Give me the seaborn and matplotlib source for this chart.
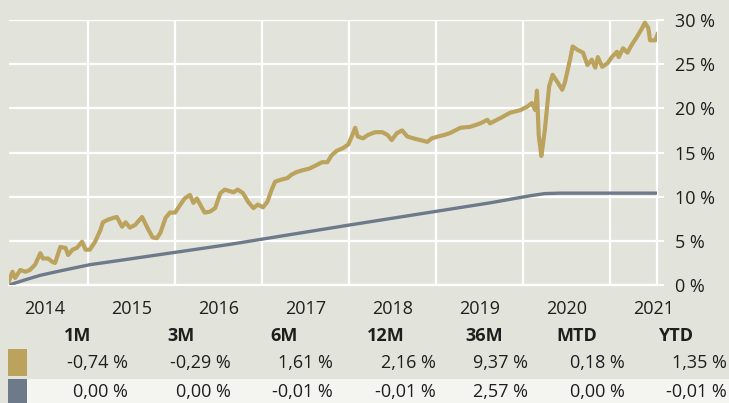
import pandas as pd
import matplotlib.pyplot as plt
import seaborn as sns
from matplotlib.patches import Rectangle
from matplotlib.ticker import FixedLocator

# cumulative performance in % (x in decimal years)
fund_t = [2014.08, 2014.13, 2014.16, 2014.22, 2014.28, 2014.33, 2014.39, 2014.45, 2014.48, 2014.54,
          2014.59, 2014.62, 2014.68, 2014.74, 2014.77, 2014.82, 2014.87, 2014.93, 2014.97, 2015.02,
          2015.08, 2015.14, 2015.17, 2015.23, 2015.29, 2015.33, 2015.39, 2015.43, 2015.48, 2015.54,
          2015.62, 2015.68, 2015.74, 2015.79, 2015.83, 2015.89, 2015.94, 2016.00, 2016.06, 2016.11,
          2016.17, 2016.21, 2016.25, 2016.31, 2016.34, 2016.40, 2016.46, 2016.52, 2016.57, 2016.67,
          2016.72, 2016.78, 2016.84, 2016.90, 2016.95, 2017.01, 2017.06, 2017.11, 2017.15, 2017.21,
          2017.29, 2017.34, 2017.40, 2017.47, 2017.55, 2017.63, 2017.69, 2017.75, 2017.80, 2017.86,
          2017.93, 2017.99, 2018.03, 2018.07, 2018.10, 2018.16, 2018.22, 2018.30, 2018.38, 2018.44,
          2018.49, 2018.55, 2018.61, 2018.67, 2018.74, 2018.82, 2018.90, 2018.95, 2019.02, 2019.10,
          2019.16, 2019.28, 2019.39, 2019.51, 2019.59, 2019.62, 2019.74, 2019.85, 2019.97, 2020.05,
          2020.10, 2020.14, 2020.16, 2020.18, 2020.21, 2020.23, 2020.25, 2020.28, 2020.30, 2020.34,
          2020.40, 2020.45, 2020.48, 2020.54, 2020.57, 2020.63, 2020.69, 2020.74, 2020.79, 2020.83,
          2020.86, 2020.91, 2020.97, 2021.02, 2021.08, 2021.10, 2021.15, 2021.20, 2021.25, 2021.31,
          2021.37, 2021.40, 2021.44, 2021.46, 2021.52, 2021.55]
fund_pct = [0.2, 1.5, 0.8, 1.7, 1.5, 1.7, 2.3, 3.6, 3.0, 3.0,
            2.6, 2.5, 4.3, 4.2, 3.4, 4.0, 4.2, 4.9, 4.0, 4.0,
            4.9, 6.2, 7.1, 7.4, 7.6, 7.7, 6.6, 7.1, 6.5, 6.8,
            7.7, 6.5, 5.4, 5.3, 5.9, 7.6, 8.2, 8.2, 9.1, 9.8,
            10.2, 9.3, 9.8, 8.7, 8.2, 8.3, 8.7, 10.4, 10.8, 10.5,
            10.8, 10.4, 9.4, 8.7, 9.1, 8.8, 9.4, 10.8, 11.7, 11.9,
            12.1, 12.5, 12.8, 13.0, 13.2, 13.6, 13.9, 13.9, 14.7, 15.2,
            15.5, 15.9, 16.8, 17.8, 16.8, 16.6, 17.0, 17.3, 17.3, 17.0,
            16.4, 17.2, 17.5, 16.8, 16.6, 16.4, 16.2, 16.6, 16.8, 17.0,
            17.2, 17.8, 17.9, 18.3, 18.7, 18.3, 18.9, 19.5, 19.8, 20.2,
            20.6, 19.8, 22.0, 17.0, 14.6, 16.0, 17.5, 20.5, 22.5, 23.8,
            22.9, 22.1, 22.9, 25.5, 27.0, 26.6, 26.3, 24.9, 25.5, 24.6,
            25.8, 24.7, 25.1, 25.8, 26.4, 25.8, 26.8, 26.3, 27.2, 28.1,
            29.1, 29.7, 29.1, 27.7, 27.7, 28.5]

bench_t = [2014.09, 2014.28, 2014.45, 2014.68, 2015.02, 2015.34, 2016.63, 2018.01, 2019.62,
           2020.08, 2020.25, 2020.43, 2021.54]
bench_pct = [0.0, 0.6, 1.1, 1.6, 2.3, 2.75, 4.6, 6.8, 9.3, 10.1, 10.35, 10.4, 10.4]

years = [2014, 2015, 2016, 2017, 2018, 2019, 2020, 2021]
y_ticks = [0, 5, 10, 15, 20, 25, 30]

periods = ["1M", "3M", "6M", "12M", "36M", "MTD", "YTD"]
fund_perf = [-0.74, -0.29, 1.61, 2.16, 9.37, 0.18, 1.35]
bench_perf = [0.00, 0.00, -0.01, -0.01, 2.57, 0.00, -0.01]

bg = "#E2E4DC"
gold = "#BBA35E"
slate = "#6D7A8A"
ink = "#1E1E1E"

sns.set_theme(style="dark", rc={"axes.facecolor": bg, "figure.facecolor": bg})
plt.rcParams["font.family"] = ["Open Sans", "DejaVu Sans"]

W, H = 729, 403
fig = plt.figure(figsize=(W / 100, H / 100), dpi=100)
ax = fig.add_axes([9 / W, 1 - 285 / H, 648 / W, 265 / H])

df_fund = pd.DataFrame({"t": fund_t, "pct": fund_pct})
df_bench = pd.DataFrame({"t": bench_t, "pct": bench_pct})
sns.lineplot(data=df_bench, x="t", y="pct", color=slate, lw=2.4, estimator=None, ax=ax, zorder=3)
sns.lineplot(data=df_fund, x="t", y="pct", color=gold, lw=3.0, estimator=None, ax=ax, zorder=4)

ax.set_xlim(2014.09, 2021.54)
ax.set_ylim(0, 30)
ax.set_xlabel("")
ax.set_ylabel("")

ax.xaxis.set_major_locator(FixedLocator([y + 1 for y in years[:-1]]))
ax.xaxis.set_minor_locator(FixedLocator([y + 0.5 for y in years]))
ax.set_xticklabels([], minor=False)
ax.set_xticklabels([str(y) for y in years], minor=True)
ax.tick_params(axis="x", which="both", length=0, pad=11, labelsize=13, labelcolor=ink)

ax.set_yticks(y_ticks)
ax.set_yticklabels([f"{v} %" for v in y_ticks])
ax.yaxis.tick_right()
ax.tick_params(axis="y", length=5, width=1.5, color="white", pad=8, labelsize=13, labelcolor=ink)

ax.grid(True, which="major", color="white", lw=1.6)
for side in ["left", "top"]:
    ax.spines[side].set_visible(False)
for side in ["bottom", "right"]:
    ax.spines[side].set_color("white")
    ax.spines[side].set_linewidth(1.6)


def fx(px):
    return px / W


def fy(py):
    return 1 - py / H


# performance table
header_x = [78, 181, 284, 386, 484, 577, 676]
value_x = [128, 231, 333, 436, 528, 625, 727]
for p, hx in zip(periods, header_x):
    fig.text(fx(hx), fy(336), p, ha="center", va="center", fontsize=13,
             fontweight="bold", color=ink)

fig.patches.append(Rectangle((fx(27), fy(403)), fx(702), 24 / H, transform=fig.transFigure,
                             facecolor="#F4F4F1", edgecolor="none", zorder=0))
fig.patches.append(Rectangle((fx(8), fy(376)), fx(19), 27 / H, transform=fig.transFigure,
                             facecolor=gold, edgecolor="none"))
fig.patches.append(Rectangle((fx(8), fy(403)), fx(19), 24 / H, transform=fig.transFigure,
                             facecolor=slate, edgecolor="none"))

for row_y, vals in [(363, fund_perf), (392, bench_perf)]:
    for v, vx in zip(vals, value_x):
        fig.text(fx(vx), fy(row_y), f"{v:.2f} %".replace(".", ","), ha="right", va="center",
                 fontsize=13, color=ink)

fig.savefig("out.png", dpi=100, facecolor=bg)
